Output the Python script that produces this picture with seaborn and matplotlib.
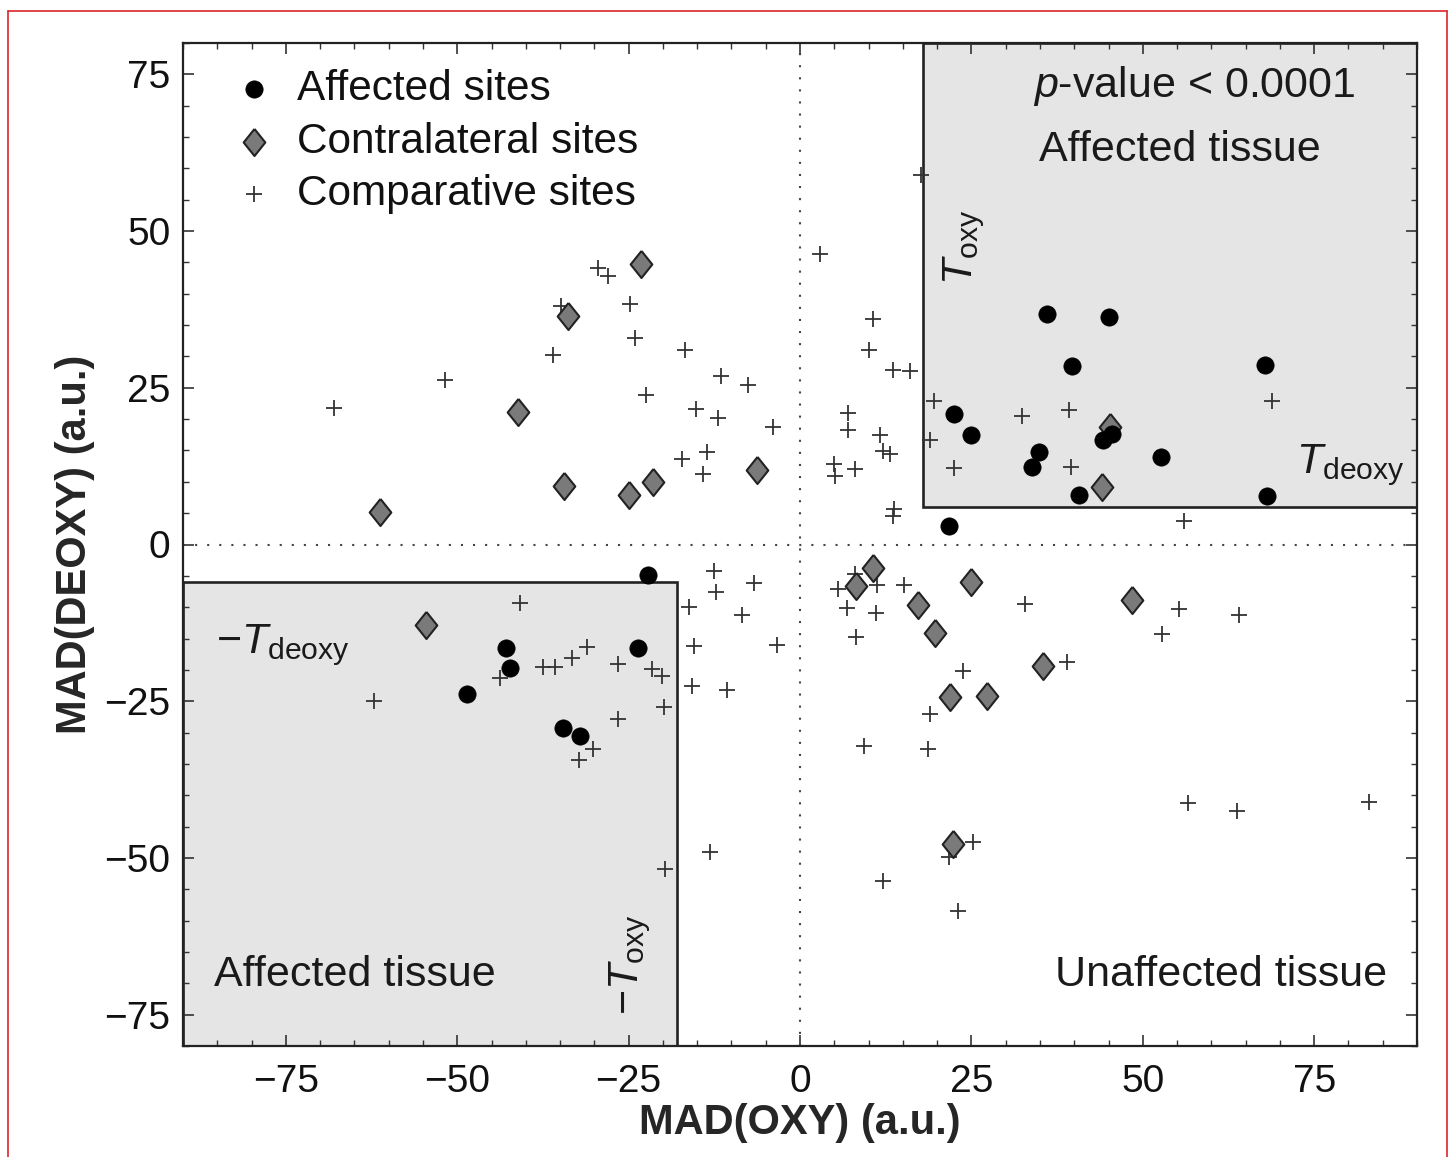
import numpy as np
import pandas as pd
import seaborn as sns
import matplotlib.pyplot as plt
from matplotlib.patches import Rectangle
from matplotlib.lines import Line2D
from matplotlib.ticker import MultipleLocator

# datos
affected_x = [36.1, 45.1, 39.7, 67.8, 22.4, 24.9, 34.8, 33.9, 44.2, 45.5, 52.7,
              40.7, 68.1, 21.7, -22.1, -42.9, -42.3, -23.6, -48.6, -34.6, -32.1]
affected_y = [36.8, 36.3, 28.4, 28.6, 20.8, 17.5, 14.7, 12.3, 16.6, 17.7, 13.9,
              7.9, 7.7, 3.0, -4.9, -16.5, -19.7, -16.5, -23.8, -29.2, -30.6]

contra_x = [-61.3, -41.2, -33.8, -23.2, -34.4, -24.9, -21.4, -6.3, 45.2, 44.1,
            -54.6, 8.1, 10.6, 17.2, 19.7, 24.9, 21.9, 27.3, 35.5, 48.4, 22.3]
contra_y = [5.2, 21.2, 36.5, 44.8, 9.3, 7.9, 10.0, 11.9, 18.7, 9.2,
            -12.8, -6.6, -3.7, -9.6, -14.1, -6.0, -24.3, -24.1, -19.4, -8.9, -47.8]

comp_x = [-68.0, -51.8, -36.0, -34.9, -29.4, -28.0, -24.8, -24.1, -22.4, -16.8,
          -15.2, -11.5, -11.9, -7.6, -3.9, -17.2, -13.5, -14.2,
          2.9, 10.6, 10.0, 13.5, 16.0, 19.6, 7.0, 7.0, 11.6, 12.1, 13.2, 4.9,
          5.1, 8.0, 18.9, 22.4, 32.4, 39.3, 39.5, 68.9, 13.7, 13.6, 56.0, 17.7,
          -40.8, -62.2, -43.8, -37.5, -35.8, -33.3, -31.0, -26.6, -21.6, -20.2,
          -19.8, -26.5, -30.2, -32.3, -19.7, -13.1, -12.5, -12.2, -6.7, -16.2,
          -8.5, -15.4, -3.4, -15.7, -10.6,
          8.0, 5.5, 11.3, 15.2, 6.8, 11.1, 8.1, 32.8, 55.3, 52.8, 64.0, 38.9,
          23.8, 18.9, 9.3, 18.7, 56.6, 63.7, 83.0, 25.3, 21.7, 12.1, 23.1]
comp_y = [21.8, 26.2, 30.3, 38.1, 44.1, 42.9, 38.4, 33.0, 23.9, 31.1,
          21.6, 26.8, 20.1, 25.5, 18.8, 13.7, 14.7, 11.3,
          46.4, 36.0, 31.1, 27.9, 27.6, 22.9, 21.0, 18.2, 17.4, 14.9, 14.4, 12.9,
          10.9, 12.1, 16.6, 12.2, 20.5, 21.4, 12.4, 22.9, 5.6, 4.5, 3.7, 58.9,
          -9.3, -25.0, -21.3, -19.5, -19.5, -18.1, -16.4, -19.1, -19.9, -20.9,
          -25.9, -27.9, -32.6, -34.4, -51.8, -49.1, -4.3, -7.5, -6.2, -9.9,
          -11.3, -16.2, -16.0, -22.6, -23.2,
          -4.7, -7.1, -6.5, -6.4, -10.1, -11.0, -14.7, -9.5, -10.3, -14.2, -11.3, -18.7,
          -20.2, -27.0, -32.2, -32.7, -41.2, -42.5, -41.0, -47.4, -49.9, -53.7, -58.4]

# umbrales
T_oxy = 18
T_deoxy = 6

sns.set_style('ticks')
plt.rcParams['font.family'] = ['Liberation Sans', 'DejaVu Sans']
plt.rcParams['mathtext.fontset'] = 'custom'
plt.rcParams['mathtext.rm'] = 'Liberation Sans'
plt.rcParams['mathtext.it'] = 'Liberation Sans:italic'

fig = plt.figure(figsize=(14.48, 11.57), dpi=100)
ax = fig.add_axes([183/1448, 1 - 1046/1157, 1234/1448, 1003/1157])

ax.set_xlim(-90, 90)
ax.set_ylim(-80, 80)

# regiones sombreadas
ax.add_patch(Rectangle((T_oxy, T_deoxy), 90 - T_oxy, 80 - T_deoxy,
                       facecolor='#e5e5e5', edgecolor='#222222', lw=1.9, zorder=0))
ax.add_patch(Rectangle((-90, -80), 90 - T_oxy, 80 - T_deoxy,
                       facecolor='#e5e5e5', edgecolor='#222222', lw=1.9, zorder=0))

ax.axhline(0, color='#444444', lw=1.5, ls=(0, (1, 4.8)), zorder=1)
ax.axvline(0, color='#444444', lw=1.5, ls=(0, (1, 4.8)), zorder=1)

diamond = [(0, 1), (0.8, 0), (0, -1), (-0.8, 0), (0, 1)]

sns.scatterplot(x=affected_x, y=affected_y, ax=ax, marker='o', s=155,
                color='black', edgecolor='black', linewidth=0.5,
                label='Affected sites', zorder=4)
sns.scatterplot(x=contra_x, y=contra_y, ax=ax, marker=diamond, s=380,
                color='#7a7a7a', edgecolor='#222222', linewidth=1.5,
                label='Contralateral sites', zorder=3)
sns.scatterplot(x=comp_x, y=comp_y, ax=ax, marker='+', s=130,
                color='#333333', linewidth=1.3,
                label='Comparative sites', zorder=2)

leg = ax.legend(loc='upper left', bbox_to_anchor=(0.04, 0.974), frameon=False,
                fontsize=30.5, handlelength=1.0, handletextpad=0.52,
                labelspacing=0.3, borderpad=0, borderaxespad=0)
for t in leg.get_texts():
    t.set_color('#111111')

txt = dict(fontsize=31, color='#1a1a1a')
ax.text(57.5, 73.2, '$p$-value < 0.0001', ha='center', va='center', **txt)
ax.text(55.4, 62.9, 'Affected tissue', ha='center', va='center', **txt)
ax.text(23.9, 47.4, r'$T_{\mathrm{oxy}}$', ha='center', va='center', rotation=90, **txt)
ax.text(88.2, 12.6, r'$T_{\mathrm{deoxy}}$', ha='right', va='center', **txt)
ax.text(-75.4, -16.1, '\u2212' + r'$T_{\mathrm{deoxy}}$', ha='center', va='center', **txt)
ax.text(-24.7, -67.1, '\u2212' + r'$T_{\mathrm{oxy}}$', ha='center', va='center', rotation=90, **txt)
ax.text(-64.9, -68.6, 'Affected tissue', ha='center', va='center', **txt)
ax.text(61.4, -68.6, 'Unaffected tissue', ha='center', va='center', **txt)

ax.xaxis.set_major_locator(MultipleLocator(25))
ax.yaxis.set_major_locator(MultipleLocator(25))
ax.xaxis.set_minor_locator(MultipleLocator(5))
ax.yaxis.set_minor_locator(MultipleLocator(5))
ax.tick_params(which='both', direction='in', top=True, right=True, color='#333333')
ax.tick_params(which='major', length=8, width=1.2, labelsize=28, pad=9, labelcolor='#111111')
ax.tick_params(axis='x', which='major', pad=13)
ax.tick_params(which='minor', length=4.5, width=1.0)
for sp in ax.spines.values():
    sp.set_linewidth(1.6)
    sp.set_color('#222222')

ax.set_xlabel('MAD(OXY) (a.u.)', fontsize=30, fontweight='bold')
ax.set_ylabel('MAD(DEOXY) (a.u.)', fontsize=30, fontweight='bold')
ax.xaxis.set_label_coords(0.5, -0.057)
ax.yaxis.set_label_coords(-0.071, 0.5)

# marco rojo
for xs, ys in [([7.5, 7.5], [-10, 1146.5]), ([7.5, 1446.5], [1146.5, 1146.5]),
               ([1446.5, 1446.5], [1146.5, -10])]:
    fig.add_artist(Line2D([x / 1448 for x in xs], [y / 1157 for y in ys],
                          color='#d9262c', lw=1.2, transform=fig.transFigure))

fig.savefig('out.png', dpi=100)
